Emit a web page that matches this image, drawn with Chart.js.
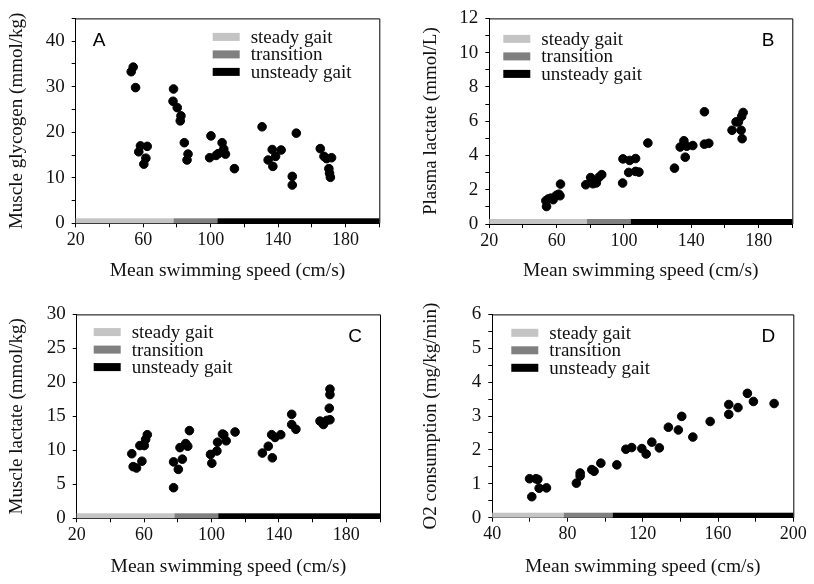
<!DOCTYPE html>
<html>
<head>
<meta charset="utf-8">
<script src="https://cdn.jsdelivr.net/npm/chart.js@4.4.0/dist/chart.umd.min.js"></script>
<style>
  body { margin: 0; background: #fff; }
  #wrap { position: relative; width: 814px; height: 584px; }
  canvas { position: absolute; }
</style>
</head>
<body>
<div id="wrap">
  <canvas id="panelA" width="400" height="288" style="left:0;top:0"></canvas>
  <canvas id="panelB" width="400" height="288" style="left:414px;top:0"></canvas>
  <canvas id="panelC" width="400" height="288" style="left:0;top:296px"></canvas>
  <canvas id="panelD" width="400" height="288" style="left:414px;top:296px"></canvas>
</div>
<script>
// gait zones along the speed axis
const gaitLabels = ['steady gait', 'transition', 'unsteady gait'];
const gaitColors = ['#c4c4c4', '#808080', '#000000'];
const gaitBreaks = [78, 104];

const xTitle = 'Mean swimming speed (cm/s)';

// A - muscle glycogen
const glycogenSpeed = [52.9, 54.1, 55.5, 57.4, 58.4, 62.4, 61.6, 60.4, 78.0, 77.7, 80.2, 82.4, 82.0, 84.4, 86.6, 86.0, 100.2, 99.4, 103.2, 104.5, 106.8, 107.8, 108.8, 114.1, 130.5, 134.1, 136.5, 136.9, 138.5, 141.8, 150.8, 148.4, 148.4, 165.0, 167.2, 168.8, 171.7, 170.1, 170.5, 171.0];
const glycogenValue = [33.3, 34.3, 29.8, 15.7, 17.0, 16.9, 14.3, 13.0, 29.5, 26.8, 25.4, 23.6, 22.5, 17.7, 15.2, 13.9, 19.2, 14.4, 14.9, 15.3, 17.7, 16.3, 15.2, 12.0, 21.2, 13.9, 16.2, 12.5, 14.7, 16.1, 19.8, 10.3, 8.4, 16.4, 14.7, 14.2, 14.4, 12.0, 11.0, 10.1];

// B - plasma lactate
const plasmaSpeed = [53.6, 54.0, 55.0, 56.5, 57.9, 59.9, 61.3, 62.0, 62.3, 77.3, 80.2, 81.6, 83.6, 85.2, 86.8, 99.2, 99.4, 103.4, 106.9, 102.8, 106.9, 108.9, 114.2, 130.0, 133.4, 135.6, 136.4, 137.3, 140.9, 147.8, 147.8, 150.4, 164.2, 166.6, 168.0, 169.6, 170.2, 169.9, 170.8];
const plasmaValue = [1.36, 1.02, 1.46, 1.51, 1.42, 1.68, 1.74, 1.65, 2.33, 2.29, 2.71, 2.35, 2.40, 2.73, 2.88, 2.39, 3.80, 3.71, 3.82, 3.01, 3.07, 3.03, 4.73, 3.26, 4.49, 4.86, 3.90, 4.54, 4.58, 6.55, 4.66, 4.71, 5.47, 5.96, 5.96, 5.47, 4.98, 6.28, 6.51];

// C - muscle lactate
const muscleLacSpeed = [52.7, 53.5, 55.5, 57.5, 58.7, 60.1, 60.9, 61.9, 77.5, 77.5, 80.3, 81.3, 82.7, 84.7, 85.9, 86.9, 99.4, 100.2, 103.2, 103.6, 106.5, 107.3, 108.7, 114.0, 130.2, 133.7, 136.1, 135.7, 137.7, 141.1, 147.6, 147.6, 150.1, 164.4, 166.4, 168.4, 170.3, 169.9, 170.3, 170.3];
const muscleLacValue = [9.5, 7.6, 7.4, 10.7, 8.4, 10.7, 11.6, 12.3, 8.3, 4.5, 7.2, 10.4, 8.7, 11.0, 10.6, 12.9, 9.4, 8.1, 9.9, 11.2, 12.4, 12.3, 11.4, 12.7, 9.6, 10.6, 8.9, 12.3, 11.9, 12.3, 15.3, 13.8, 13.1, 14.3, 13.8, 14.4, 14.5, 16.2, 18.2, 19.0];

// D - O2 consumption
const o2Speed = [59.8, 61.0, 63.2, 64.2, 64.9, 68.8, 84.7, 86.7, 86.7, 92.9, 94.1, 97.7, 106.2, 111.0, 114.1, 119.5, 121.8, 124.8, 128.8, 133.6, 138.9, 140.7, 146.6, 155.8, 165.7, 165.7, 170.6, 175.6, 178.8, 189.8];
const o2Value = [1.15, 0.62, 1.15, 1.13, 0.87, 0.88, 1.02, 1.32, 1.23, 1.42, 1.37, 1.61, 1.56, 2.02, 2.07, 2.04, 1.88, 2.23, 2.06, 2.67, 2.59, 2.99, 2.38, 2.84, 3.34, 3.05, 3.25, 3.67, 3.43, 3.37];

const serif = '"Liberation Serif", "Times New Roman", serif';
const inkColor = '#111';

// gait band, frame, legend and panel letter
const panelDeco = {
  id: 'panelDeco',
  afterDatasetsDraw(chart, args, opts) {
    const ctx = chart.ctx;
    const a = chart.chartArea;
    const x = chart.scales.x;
    ctx.save();

    const edges = [x.min, ...gaitBreaks, x.max];
    for (let i = 0; i < gaitColors.length; i++) {
      const x0 = x.getPixelForValue(edges[i]);
      const x1 = x.getPixelForValue(edges[i + 1]);
      ctx.fillStyle = gaitColors[i];
      ctx.fillRect(x0, a.bottom - 5, x1 - x0, 5);
    }

    ctx.strokeStyle = '#000';
    ctx.lineWidth = 1;
    ctx.beginPath();
    ctx.moveTo(a.left, a.top + 0.5);
    ctx.lineTo(a.right + 0.5, a.top + 0.5);
    ctx.lineTo(a.right + 0.5, a.bottom);
    ctx.stroke();

    ctx.font = '19px ' + serif;
    ctx.textBaseline = 'middle';
    ctx.textAlign = 'left';
    gaitLabels.forEach((lab, i) => {
      const y = a.top + opts.legendTop + i * 17.5;
      ctx.fillStyle = gaitColors[i];
      ctx.fillRect(a.left + opts.legendLeft, y - 4, 27, 8);
      ctx.fillStyle = inkColor;
      ctx.fillText(lab, a.left + opts.legendLeft + 38, y + 1);
    });

    ctx.font = '19px "Liberation Sans", Arial, sans-serif';
    ctx.fillStyle = '#000';
    if (opts.letterSide === 'left') {
      ctx.textAlign = 'left';
      ctx.fillText(opts.letter, a.left + 17, a.top + 22);
    } else {
      ctx.textAlign = 'right';
      ctx.fillText(opts.letter, a.right - 18, a.top + 22);
    }
    ctx.restore();
  }
};

function makePanel(id, speeds, values, cfg) {
  const pts = speeds.map((s, i) => ({ x: s, y: values[i] }));
  new Chart(document.getElementById(id), {
    type: 'scatter',
    data: {
      datasets: [{
        data: pts,
        backgroundColor: '#000',
        borderColor: '#000',
        pointRadius: 4.3,
        pointHoverRadius: 4.3
      }]
    },
    options: {
      responsive: false,
      animation: false,
      layout: { padding: { left: 0, top: cfg.area.top, right: 400 - cfg.area.right, bottom: 0 } },
      plugins: {
        legend: { display: false },
        tooltip: { enabled: false },
        panelDeco: { letter: cfg.letter, letterSide: cfg.letterSide, legendLeft: cfg.legendLeft, legendTop: cfg.legendTop }
      },
      scales: {
        x: {
          type: 'linear',
          min: cfg.xMin,
          max: 200,
          afterFit: s => { s.height = 288 - cfg.area.bottom; },
          ticks: {
            stepSize: 20,
            autoSkip: false,
            maxRotation: 0,
            padding: 2,
            color: inkColor,
            font: { family: serif, size: 18 },
            callback: v => ((v - cfg.xMin) % 40 === 0 ? v : '')
          },
          grid: { display: true, drawOnChartArea: false, drawTicks: true, tickLength: 4, tickColor: '#000' },
          border: { display: true, color: '#000', width: 1 },
          title: { display: true, text: xTitle, color: inkColor, font: { family: serif, size: 19.5 }, padding: { top: 0, bottom: 5 } }
        },
        y: {
          type: 'linear',
          min: 0,
          max: cfg.yMax,
          afterFit: s => { s.width = cfg.area.left; },
          ticks: {
            stepSize: cfg.yStep,
            autoSkip: false,
            padding: 7,
            color: inkColor,
            font: { family: serif, size: 19 },
            callback: v => (Math.abs(v / cfg.yLabelEvery - Math.round(v / cfg.yLabelEvery)) < 1e-6 && v <= cfg.yLabelMax ? v : '')
          },
          grid: { display: true, drawOnChartArea: false, drawTicks: true, tickLength: 4, tickColor: '#000' },
          border: { display: true, color: '#000', width: 1 },
          title: { display: true, text: cfg.yTitle, color: inkColor, font: { family: serif, size: 19 }, padding: { top: 6, bottom: 0 } }
        }
      }
    },
    plugins: [panelDeco]
  });
}

makePanel('panelA', glycogenSpeed, glycogenValue, {
  xMin: 20, yMax: 45, yStep: 5, yLabelEvery: 10, yLabelMax: 40,
  yTitle: 'Muscle glycogen (mmol/kg)',
  letter: 'A', letterSide: 'left', legendLeft: 137, legendTop: 18.5,
  area: { left: 75.7, top: 11.5, right: 379.3, bottom: 223.3 }
});

makePanel('panelB', plasmaSpeed, plasmaValue, {
  xMin: 20, yMax: 12, yStep: 1, yLabelEvery: 2, yLabelMax: 12,
  yTitle: 'Plasma lactate (mmol/L)',
  letter: 'B', letterSide: 'right', legendLeft: 14, legendTop: 20.5,
  area: { left: 75.3, top: 12.7, right: 378.3, bottom: 224 }
});

makePanel('panelC', muscleLacSpeed, muscleLacValue, {
  xMin: 20, yMax: 30, yStep: 5, yLabelEvery: 5, yLabelMax: 30,
  yTitle: 'Muscle lactate (mmol/kg)',
  letter: 'C', letterSide: 'right', legendLeft: 17, legendTop: 17.7,
  area: { left: 76.7, top: 13, right: 380, bottom: 222.3 }
});

makePanel('panelD', o2Speed, o2Value, {
  xMin: 40, yMax: 6, yStep: 0.5, yLabelEvery: 1, yLabelMax: 6,
  yTitle: 'O2 consumption (mg/kg/min)',
  letter: 'D', letterSide: 'right', legendLeft: 19, legendTop: 18.4,
  area: { left: 78.3, top: 12.3, right: 379.3, bottom: 221.7 }
});
</script>
</body>
</html>
